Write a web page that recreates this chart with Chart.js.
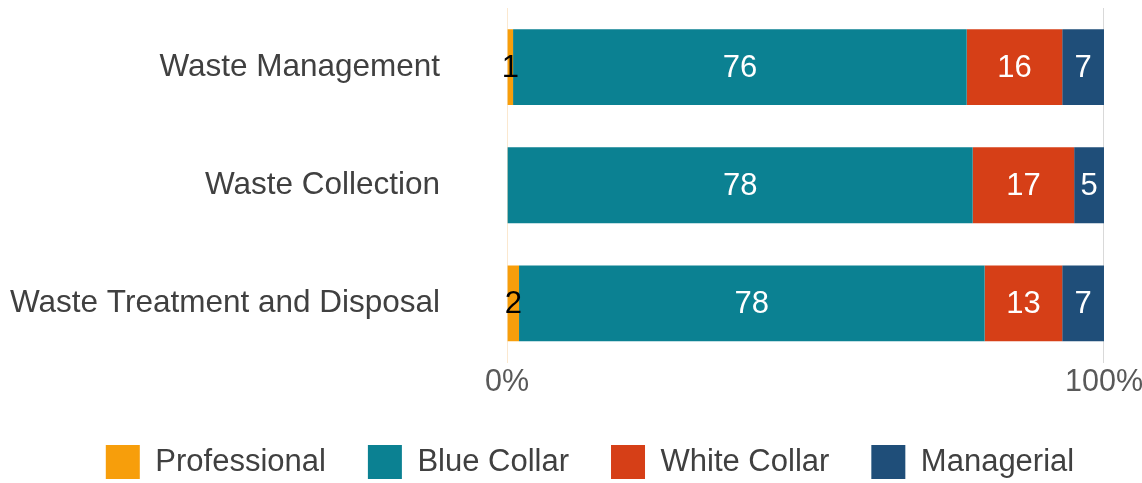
<!DOCTYPE html>
<html>
<head>
<meta charset="utf-8">
<script src="https://cdn.jsdelivr.net/npm/chart.js@4"></script>
<style>
  html, body { margin: 0; padding: 0; background: #fff; }
  #wrap { width: 1142px; height: 483px; }
</style>
</head>
<body>
<div id="wrap"><canvas id="c" width="1142" height="483"></canvas></div>
<script>
const categories = ["Waste Management", "Waste Collection", "Waste Treatment and Disposal"];
const professional = [1, 0, 2];
const blueCollar = [76, 78, 78];
const whiteCollar = [16, 17, 13];
const managerial = [7, 5, 7];
const seriesNames = ["Professional", "Blue Collar", "White Collar", "Managerial"];
const seriesColors = ["#F79E0B", "#0B8192", "#D63F17", "#1F4E79"];
const labelColors = ["#000000", "#FFFFFF", "#FFFFFF", "#FFFFFF"];
const xTicks = [0, 100];

const FONT = "'Liberation Sans', Arial, sans-serif";
const Y_GAP = 67;

const valueLabels = {
  id: 'valueLabels',
  afterDatasetsDraw(chart) {
    const ctx = chart.ctx;
    ctx.save();
    ctx.font = "31px " + FONT;
    ctx.textAlign = 'center';
    ctx.textBaseline = 'middle';
    chart.data.datasets.forEach((ds, di) => {
      const meta = chart.getDatasetMeta(di);
      meta.data.forEach((el, i) => {
        const v = ds.data[i];
        if (!v) return;
        const x = (el.x + el.base) / 2;
        ctx.fillStyle = labelColors[di];
        ctx.fillText(String(v), x, el.y + 1.5);
      });
    });
    ctx.restore();
  }
};

const legendShift = {
  id: 'legendShift',
  afterLayout(chart) {
    if (chart.legend) {
      chart.legend.left += 14;
      chart.legend.right += 14;
    }
  }
};

const seriesData = [professional, blueCollar, whiteCollar, managerial];

new Chart(document.getElementById('c'), {
  type: 'bar',
  data: {
    labels: categories,
    datasets: seriesNames.map((n, k) => ({
      label: n,
      data: seriesData[k],
      backgroundColor: seriesColors[k],
      borderWidth: 0,
      barPercentage: 0.642,
      categoryPercentage: 1
    }))
  },
  plugins: [valueLabels, legendShift],
  options: {
    indexAxis: 'y',
    responsive: false,
    animation: false,
    devicePixelRatio: 1,
    layout: { padding: { left: 10, top: 8, right: 0, bottom: 0 } },
    scales: {
      x: {
        stacked: true,
        min: 0,
        max: 100,
        afterBuildTicks: (axis) => { axis.ticks = xTicks.map(v => ({ value: v })); },
        afterFit: (axis) => { axis.paddingRight = Math.max(axis.paddingRight - 6, 0); },
        ticks: {
          callback: (v) => v + '%',
          color: '#595959',
          font: { family: FONT, size: 30.5, lineHeight: 1 },
          padding: 5,
          maxRotation: 0
        },
        grid: {
          drawTicks: false,
          color: (c) => c.index === 0 ? '#FBE8CF' : '#D9D9D9',
          lineWidth: 1
        },
        border: { display: false }
      },
      y: {
        stacked: true,
        afterFit: (axis) => { axis.paddingTop = 0; axis.paddingBottom = 0; axis.width -= Y_GAP; },
        ticks: {
          color: '#404040',
          font: { family: FONT, size: 31.5 },
          padding: Y_GAP
        },
        grid: { display: false, drawTicks: false },
        border: { display: false }
      }
    },
    plugins: {
      legend: {
        position: 'bottom',
        maxHeight: 80,
        labels: {
          boxWidth: 34,
          boxHeight: 34,
          padding: 42,
          color: '#404040',
          font: { family: FONT, size: 31 }
        }
      },
      tooltip: { enabled: false }
    }
  }
});
</script>
</body>
</html>
